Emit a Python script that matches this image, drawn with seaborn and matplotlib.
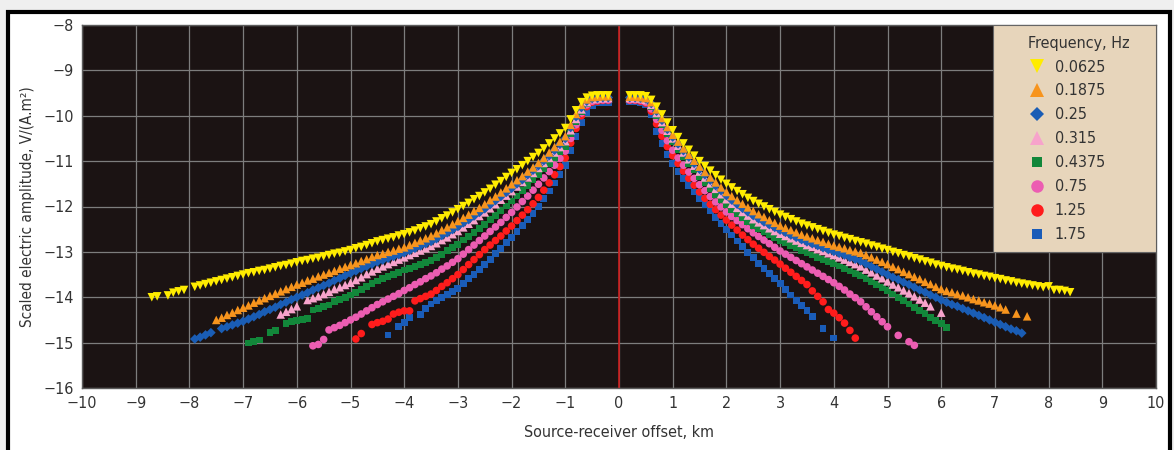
import matplotlib
matplotlib.use("Agg")
import matplotlib.pyplot as plt
from matplotlib.lines import Line2D
from matplotlib.patches import Rectangle
import pandas as pd
import seaborn as sns

nan = float("nan")

# Absolute source-receiver offsets (km) of the receivers, shared by both sides
offset_km = [
    0.2, 0.3, 0.4, 0.5, 0.6, 0.7, 0.8, 0.9, 1.0,
    1.1, 1.2, 1.3, 1.4, 1.5, 1.6, 1.7, 1.8, 1.9, 2.0,
    2.1, 2.2, 2.3, 2.4, 2.5, 2.6, 2.7, 2.8, 2.9, 3.0,
    3.1, 3.2, 3.3, 3.4, 3.5, 3.6, 3.7, 3.8, 3.9, 4.0,
    4.1, 4.2, 4.3, 4.4, 4.5, 4.6, 4.7, 4.8, 4.9, 5.0,
    5.1, 5.2, 5.3, 5.4, 5.5, 5.6, 5.7, 5.8, 5.9, 6.0,
    6.1, 6.2, 6.3, 6.4, 6.5, 6.6, 6.7, 6.8, 6.9, 7.0,
    7.1, 7.2, 7.3, 7.4, 7.5, 7.6, 7.7, 7.8, 7.9, 8.0,
    8.1, 8.2, 8.3, 8.4, 8.5, 8.6, 8.7,
]

frequency_labels = ["0.0625", "0.1875", "0.25", "0.315", "0.4375", "0.75", "1.25", "1.75"]

# log10 of scaled electric amplitude, V/(A.m^2); "right" = positive offsets, "left" = negative offsets
amp_right_0_0625 = [
    -9.55, -9.55, -9.55, -9.57, -9.65, -9.80, -9.97, -10.15, -10.32,
    -10.47, -10.61, -10.75, -10.88, -11.00, -11.11, -11.21, -11.31, -11.41, -11.50,
    -11.58, -11.66, -11.73, -11.81, -11.88, -11.94, -12.00, -12.06, -12.12, -12.18,
    -12.23, -12.28, -12.33, -12.38, -12.42, -12.46, -12.50, -12.54, -12.58, -12.62,
    -12.65, -12.69, -12.72, -12.76, -12.79, -12.82, -12.86, -12.89, -12.93, -12.96,
    -13.00, -13.03, -13.07, -13.10, -13.14, -13.17, -13.21, -13.24, -13.28, -13.31,
    -13.34, -13.37, -13.39, -13.42, -13.45, -13.48, -13.50, -13.53, -13.55, -13.58,
    -13.60, -13.63, -13.65, -13.68, -13.70, -13.72, -13.74, -13.76, -13.78, -13.76,
    -13.84, -13.84, -13.86, -13.89,
]
amp_left_0_0625 = [
    -9.55, -9.55, -9.55, -9.56, -9.60, -9.70, -9.88, -10.08, -10.27,
    -10.39, -10.50, -10.61, -10.72, -10.82, -10.91, -11.00, -11.09, -11.18, -11.26,
    -11.35, -11.44, -11.52, -11.61, -11.69, -11.77, -11.84, -11.92, -11.99, -12.06,
    -12.13, -12.20, -12.26, -12.33, -12.39, -12.44, -12.48, -12.53, -12.57, -12.61,
    -12.64, -12.68, -12.71, -12.74, -12.77, -12.81, -12.85, -12.89, -12.92, -12.96,
    -12.99, -13.02, -13.04, -13.07, -13.10, -13.13, -13.15, -13.18, -13.20, -13.23,
    -13.26, -13.29, -13.31, -13.34, -13.37, -13.40, -13.42, -13.45, -13.47, -13.50,
    -13.53, -13.56, -13.59, -13.62, -13.65, -13.68, -13.71, -13.74, -13.77, nan,
    -13.84, -13.87, -13.90, -13.96, nan, -13.98, -14.00,
]

amp_right_0_1875 = [
    -9.58, -9.58, -9.59, -9.61, -9.70, -9.86, -10.05, -10.25, -10.42,
    -10.57, -10.72, -10.86, -10.99, -11.12, -11.24, -11.36, -11.47, -11.58, -11.68,
    -11.77, -11.86, -11.94, -12.02, -12.10, -12.17, -12.23, -12.30, -12.36, -12.42,
    -12.47, -12.52, -12.57, -12.62, -12.66, -12.70, -12.74, -12.78, -12.82, -12.86,
    -12.89, -12.92, -12.96, -12.99, -13.02, -13.07, -13.12, -13.17, -13.22, -13.27,
    -13.33, -13.38, -13.44, -13.49, -13.55, -13.60, -13.66, -13.71, -13.77, -13.82,
    -13.86, -13.89, -13.93, -13.96, -14.00, -14.04, -14.07, -14.11, -14.14, -14.18,
    -14.22, -14.27, nan, -14.36, nan, -14.42,
]
amp_left_0_1875 = [
    -9.57, -9.57, -9.58, -9.59, -9.64, -9.76, -9.96, -10.20, -10.45,
    -10.57, -10.69, -10.81, -10.93, -11.04, -11.14, -11.23, -11.33, -11.42, -11.51,
    -11.60, -11.69, -11.78, -11.86, -11.95, -12.03, -12.10, -12.18, -12.25, -12.32,
    -12.39, -12.46, -12.52, -12.59, -12.65, -12.70, -12.75, -12.80, -12.85, -12.90,
    -12.93, -12.97, -13.00, -13.04, -13.07, -13.11, -13.16, -13.20, -13.25, -13.29,
    -13.33, -13.37, -13.42, -13.46, -13.50, -13.54, -13.59, -13.63, -13.68, -13.72,
    -13.77, -13.82, -13.87, -13.92, -13.97, -14.02, -14.07, -14.12, -14.18, -14.23,
    -14.28, -14.34, -14.39, -14.45, -14.50,
]

amp_right_0_25 = [
    -9.60, -9.60, -9.61, -9.63, -9.73, -9.90, -10.10, -10.30, -10.47,
    -10.62, -10.77, -10.91, -11.05, -11.18, -11.30, -11.42, -11.54, -11.65, -11.76,
    -11.86, -11.95, -12.04, -12.12, -12.20, -12.27, -12.34, -12.40, -12.46, -12.52,
    -12.57, -12.63, -12.68, -12.73, -12.78, -12.82, -12.86, -12.91, -12.95, -12.99,
    -13.03, -13.07, -13.12, -13.16, -13.20, -13.26, -13.32, -13.38, -13.44, -13.50,
    -13.56, -13.61, -13.67, -13.72, -13.78, -13.84, -13.89, -13.95, -14.00, -14.06,
    -14.11, -14.16, -14.20, -14.25, -14.30, -14.35, -14.40, -14.45, -14.50, -14.55,
    -14.60, -14.65, -14.70, -14.74, -14.79,
]
amp_left_0_25 = [
    -9.60, -9.60, -9.61, -9.62, -9.68, -9.82, -10.02, -10.26, -10.50,
    -10.63, -10.76, -10.88, -10.99, -11.10, -11.20, -11.30, -11.41, -11.50, -11.60,
    -11.69, -11.78, -11.87, -11.96, -12.05, -12.13, -12.21, -12.29, -12.36, -12.44,
    -12.51, -12.58, -12.64, -12.71, -12.77, -12.82, -12.87, -12.92, -12.97, -13.02,
    -13.06, -13.10, -13.14, -13.18, -13.22, -13.27, -13.32, -13.37, -13.42, -13.47,
    -13.52, -13.58, -13.63, -13.69, -13.74, -13.79, -13.84, -13.90, -13.95, -14.00,
    -14.05, -14.11, -14.16, -14.22, -14.27, -14.32, -14.38, -14.43, -14.48, -14.53,
    -14.57, -14.61, -14.65, -14.69, nan, -14.78, -14.83, -14.88, -14.92,
]

amp_right_0_315 = [
    -9.61, -9.61, -9.62, -9.65, -9.76, -9.94, -10.14, -10.33, -10.50,
    -10.66, -10.81, -10.96, -11.10, -11.23, -11.36, -11.49, -11.61, -11.73, -11.84,
    -11.94, -12.03, -12.12, -12.20, -12.28, -12.35, -12.41, -12.48, -12.54, -12.60,
    -12.65, -12.70, -12.75, -12.80, -12.85, -12.89, -12.94, -12.98, -13.03, -13.07,
    -13.12, -13.17, -13.22, -13.27, -13.32, -13.39, -13.45, -13.52, -13.58, -13.65,
    -13.72, -13.78, -13.85, -13.91, -13.98, -14.05, -14.12, -14.20, nan, -14.34,
]
amp_left_0_315 = [
    -9.61, -9.61, -9.62, -9.63, -9.70, -9.86, -10.07, -10.32, -10.56,
    -10.69, -10.81, -10.93, -11.04, -11.15, -11.26, -11.36, -11.46, -11.56, -11.66,
    -11.76, -11.85, -11.95, -12.04, -12.13, -12.21, -12.30, -12.38, -12.46, -12.54,
    -12.61, -12.68, -12.74, -12.81, -12.87, -12.92, -12.97, -13.02, -13.07, -13.12,
    -13.17, -13.22, -13.27, -13.32, -13.37, -13.43, -13.49, -13.56, -13.62, -13.68,
    -13.73, -13.78, -13.82, -13.88, -13.93, -13.98, -14.02, -14.06, nan, -14.20,
    -14.26, -14.32, -14.38,
]

amp_right_0_4375 = [
    -9.63, -9.63, -9.64, -9.67, -9.80, -10.00, -10.20, -10.40, -10.58,
    -10.74, -10.90, -11.05, -11.19, -11.33, -11.47, -11.60, -11.73, -11.85, -11.96,
    -12.06, -12.15, -12.24, -12.33, -12.42, -12.49, -12.56, -12.62, -12.69, -12.75,
    -12.80, -12.86, -12.91, -12.97, -13.02, -13.07, -13.12, -13.16, -13.21, -13.26,
    -13.31, -13.36, -13.42, -13.47, -13.52, -13.59, -13.66, -13.72, -13.79, -13.86,
    -13.93, -14.00, -14.08, -14.15, -14.22, -14.29, -14.36, -14.44, -14.51, -14.58,
    -14.66,
]
amp_left_0_4375 = [
    -9.63, -9.63, -9.64, -9.65, -9.73, -9.90, -10.13, -10.40, -10.67,
    -10.80, -10.93, -11.05, -11.17, -11.29, -11.41, -11.53, -11.65, -11.77, -11.88,
    -11.99, -12.09, -12.19, -12.29, -12.39, -12.48, -12.57, -12.66, -12.74, -12.83,
    -12.90, -12.97, -13.05, -13.12, -13.19, -13.23, -13.28, -13.32, -13.36, -13.40,
    -13.45, -13.50, -13.54, -13.59, -13.64, -13.70, -13.76, -13.83, -13.89, -13.95,
    -14.00, -14.05, -14.10, -14.17, -14.20, -14.24, -14.28, -14.46, -14.49, -14.51,
    -14.54, -14.57, nan, -14.73, -14.77, nan, -14.94, -14.97, -15.01,
]

amp_right_0_75 = [
    -9.65, -9.65, -9.66, -9.70, -9.85, -10.08, -10.32, -10.55, -10.76,
    -10.93, -11.09, -11.24, -11.38, -11.52, -11.65, -11.78, -11.90, -12.01, -12.12,
    -12.22, -12.31, -12.40, -12.49, -12.58, -12.66, -12.74, -12.82, -12.90, -12.98,
    -13.05, -13.12, -13.19, -13.26, -13.33, -13.40, -13.47, -13.54, -13.61, -13.68,
    -13.76, -13.84, -13.93, -14.01, -14.10, -14.21, -14.32, -14.43, -14.54, -14.65,
    nan, -14.84, nan, -14.98, -15.06,
]
amp_left_0_75 = [
    -9.65, -9.65, -9.66, -9.68, -9.76, -9.94, -10.20, -10.50, -10.78,
    -10.94, -11.09, -11.23, -11.37, -11.51, -11.64, -11.77, -11.89, -12.01, -12.13,
    -12.24, -12.35, -12.45, -12.55, -12.65, -12.75, -12.85, -12.95, -13.05, -13.15,
    -13.23, -13.31, -13.38, -13.46, -13.53, -13.59, -13.66, -13.72, -13.79, -13.85,
    -13.92, -13.98, -14.04, -14.10, -14.16, -14.23, -14.30, -14.37, -14.44, -14.50,
    -14.56, -14.62, -14.67, -14.72, -14.93, -15.04, -15.07,
]

amp_right_1_25 = [
    -9.66, -9.66, -9.68, -9.72, -9.90, -10.18, -10.45, -10.68, -10.88,
    -11.05, -11.22, -11.38, -11.53, -11.68, -11.82, -11.95, -12.07, -12.19, -12.30,
    -12.41, -12.52, -12.63, -12.73, -12.83, -12.92, -13.01, -13.10, -13.18, -13.27,
    -13.36, -13.45, -13.54, -13.63, -13.72, -13.86, -13.98, -14.10, -14.27, -14.35,
    -14.45, -14.57, -14.73, -14.90,
]
amp_left_1_25 = [
    -9.66, -9.66, -9.68, -9.70, -9.80, -10.00, -10.28, -10.60, -10.93,
    -11.12, -11.30, -11.48, -11.64, -11.80, -11.94, -12.07, -12.19, -12.31, -12.43,
    -12.54, -12.65, -12.75, -12.85, -12.95, -13.06, -13.17, -13.28, -13.39, -13.50,
    -13.59, -13.68, -13.76, -13.85, -13.93, -13.98, -14.03, -14.08, -14.30, -14.30,
    -14.33, -14.37, -14.48, -14.53, -14.56, -14.60, nan, -14.80, -14.92,
]

amp_right_1_75 = [
    -9.68, -9.68, -9.70, -9.75, -9.98, -10.35, -10.62, -10.85, -11.05,
    -11.22, -11.38, -11.53, -11.68, -11.82, -11.96, -12.10, -12.24, -12.37, -12.50,
    -12.63, -12.76, -12.88, -13.01, -13.13, -13.25, -13.36, -13.47, -13.59, -13.70,
    -13.83, -13.95, -14.07, -14.18, -14.30, -14.43, nan, -14.68, nan, -14.90,
]
amp_left_1_75 = [
    -9.70, -9.70, -9.72, -9.78, -9.92, -10.15, -10.45, -10.77, -11.10,
    -11.29, -11.48, -11.66, -11.83, -12.00, -12.15, -12.29, -12.42, -12.55, -12.68,
    -12.80, -12.92, -13.04, -13.16, -13.27, -13.38, -13.49, -13.59, -13.70, -13.80,
    -13.87, -13.94, -14.01, -14.08, -14.15, -14.25, -14.38, nan, -14.45, -14.55,
    -14.65, nan, -14.83,
]

amplitude_series = {
    "0.0625": (amp_right_0_0625, amp_left_0_0625),
    "0.1875": (amp_right_0_1875, amp_left_0_1875),
    "0.25": (amp_right_0_25, amp_left_0_25),
    "0.315": (amp_right_0_315, amp_left_0_315),
    "0.4375": (amp_right_0_4375, amp_left_0_4375),
    "0.75": (amp_right_0_75, amp_left_0_75),
    "1.25": (amp_right_1_25, amp_left_1_25),
    "1.75": (amp_right_1_75, amp_left_1_75),
}

# marker, colour, scatter size (pt^2), legend marker size (pt)
marker_styles = {
    "0.0625": ("v", "#ffec00", 38, 9.5),
    "0.1875": ("^", "#f7941d", 38, 9.5),
    "0.25": ("D", "#1a5db5", 24, 7.5),
    "0.315": ("^", "#f7a3cb", 38, 9.5),
    "0.4375": ("s", "#12873a", 24, 7.5),
    "0.75": ("o", "#ec5db2", 30, 9.0),
    "1.25": ("o", "#ff1c1c", 30, 9.0),
    "1.75": ("s", "#1a5cb8", 24, 7.5),
}

records = []
for freq, (right_vals, left_vals) in amplitude_series.items():
    for d, a in zip(offset_km, right_vals):
        records.append((freq, d, a))
    for d, a in zip(offset_km, left_vals):
        records.append((freq, -d, a))
df = pd.DataFrame(records, columns=["frequency", "offset", "amplitude"]).dropna()

sns.set_style("dark", {
    "axes.facecolor": "#1b1313",
    "axes.edgecolor": "#5c5c5c",
    "grid.color": "#7d7d7d",
    "axes.grid": True,
})
plt.rcParams["font.family"] = ["DejaVu Sans"]
plt.rcParams["font.stretch"] = "condensed"
plt.rcParams["axes.unicode_minus"] = True

fig = plt.figure(figsize=(11.74, 4.5), dpi=100, facecolor="#efefef")
# white page with a heavy black border around the chart
fig.patches.append(Rectangle((8 / 1174, -0.05), 1162 / 1174, 1.05 - 12 / 450,
                             transform=fig.transFigure, facecolor="white",
                             edgecolor="black", linewidth=3, zorder=-1))
ax = fig.add_axes([82 / 1174, 1 - 388 / 450, 1074 / 1174, 363 / 450])

# draw highest frequency first so the low-frequency curves sit on top
for freq in reversed(frequency_labels):
    marker, color, size, _ = marker_styles[freq]
    sub = df[df["frequency"] == freq]
    sns.scatterplot(data=sub, x="offset", y="amplitude", marker=marker, color=color,
                    s=size, linewidth=0, edgecolor="none", legend=False, ax=ax, zorder=3)

ax.axvline(0, color="#cc1c1c", linewidth=1.2, zorder=2)

ax.set_xlim(-10, 10)
ax.set_ylim(-16, -8)
ax.set_xticks(range(-10, 11))
ax.set_yticks(range(-16, -7))
ax.grid(True, color="#7d7d7d", linewidth=0.9)
ax.tick_params(axis="both", length=0, pad=6, labelsize=11.5, labelcolor="#333333")
for spine in ax.spines.values():
    spine.set_color("#5c5c5c")
    spine.set_linewidth(1.0)

ax.set_xlabel("Source-receiver offset, km", fontsize=11.5, color="#333333", labelpad=10)
ax.set_ylabel("Scaled electric amplitude, V/(A.m²)", fontsize=11, color="#333333", labelpad=6)

# legend panel
ax.add_patch(Rectangle((911 / 1074, 136 / 363), 163 / 1074, 227 / 363,
                       transform=ax.transAxes, facecolor="#e7d5bb",
                       edgecolor="#666666", linewidth=0.8, zorder=4))
handles = [Line2D([], [], linestyle="", marker=marker_styles[f][0],
                  color=marker_styles[f][1], markersize=marker_styles[f][3],
                  markeredgewidth=0) for f in frequency_labels]
leg = ax.legend(handles, frequency_labels, title="Frequency, Hz",
                loc="upper left", bbox_to_anchor=(933 / 1074, 1.006),
                frameon=False, fontsize=11.5, title_fontsize=11.5,
                handletextpad=0.6, labelspacing=0.56, borderpad=0.3,
                handlelength=1.1)
leg._legend_box.align = "left"
leg.set_zorder(5)
for t in leg.get_texts():
    t.set_color("#333333")
leg.get_title().set_color("#333333")

fig.savefig("out.png", dpi=100, facecolor=fig.get_facecolor())
